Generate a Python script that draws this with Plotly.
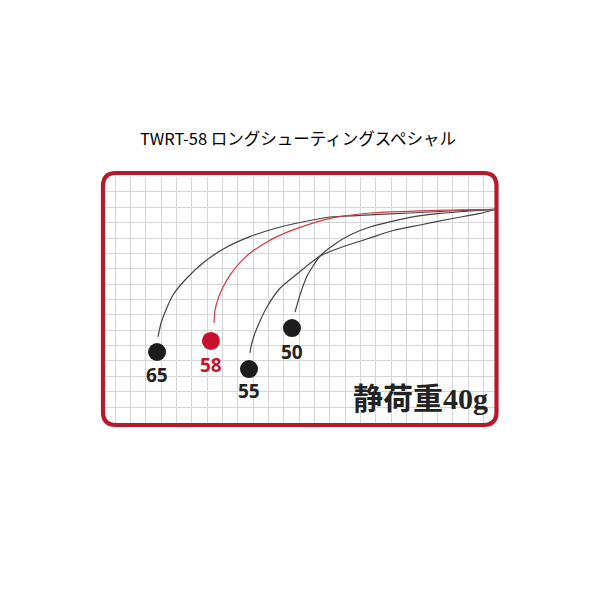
import plotly.graph_objects as go

# ---- data (grid units: x to the right, y upward; one grid cell = 1) ----
c65_x = [24.76, 21.82, 19.22, 15.96, 14.01, 12.05, 10.42, 8.79, 7.17, 5.73, 4.56, 3.78, 3.32, 3.00, 2.80]
c65_y = [12.86, 12.76, 12.63, 12.47, 12.37, 12.01, 11.62, 11.09, 10.35, 9.38, 8.27, 7.29, 6.32, 5.47, 4.56]

c58_x = [24.76, 20.52, 16.61, 14.01, 12.05, 10.55, 9.58, 8.79, 8.08, 7.49, 7.04, 6.71, 6.51, 6.45]
c58_y = [12.86, 12.79, 12.63, 12.28, 11.69, 11.09, 10.55, 10.01, 9.34, 8.59, 7.81, 7.03, 6.25, 5.47]

c55_x = [24.76, 23.78, 21.82, 19.87, 18.11, 16.61, 14.98, 13.36, 11.86, 10.75, 9.90, 9.25, 8.93, 8.79]
c55_y = [12.86, 12.60, 12.24, 11.85, 11.49, 11.00, 10.48, 9.83, 8.66, 7.73, 6.51, 5.14, 4.23, 3.52]

c50_x = [24.76, 23.13, 21.17, 19.22, 16.61, 15.31, 14.33, 13.36, 12.51, 12.05, 11.73]
c50_y = [12.86, 12.76, 12.60, 12.34, 11.72, 11.20, 10.61, 9.83, 8.53, 7.29, 6.18]

labels = ["65", "58", "55", "50"]
dot_x = [2.74, 6.25, 8.73, 11.53]
dot_y = [3.58, 4.30, 2.47, 5.14]
label_shift = [-23, -24, -22, -24]

title_text = "TWRT-58 ロングシューティングスペシャル"
load_text = "静荷重40g"

# ---- styles ----
BLACK_LINE = "#444444"
RED_LINE = "#d23a44"
BLACK_DOT = "#1c1c1c"
RED_DOT = "#c8102e"
BORDER = "#b51a2c"

OFF = 8                 # default page body margin of the html page
W, H = 600, 600
PL, PR, PT, PB = 105, 495, 177, 423      # plot area on the page (px)
GX, GY = 15.35, 15.36   # pixel size of one grid cell
X0PX, Y0PX = 115, 407   # page pixel position of grid origin

L, T = PL - OFF, PT - OFF
R, B = W - L - (PR - PL), H - T - (PB - PT)

x_range = [(PL - X0PX) / GX, (PR - X0PX) / GX]
y_range = [(Y0PX - PB) / GY, (Y0PX - PT) / GY]

fig = go.Figure()

curves = [(c65_x, c65_y, BLACK_LINE), (c50_x, c50_y, BLACK_LINE),
          (c55_x, c55_y, BLACK_LINE), (c58_x, c58_y, RED_LINE)]
for cx, cy, col in curves:
    fig.add_trace(go.Scatter(x=cx, y=cy, mode="lines",
                             line=dict(color=col, width=1.2, shape="spline", smoothing=0.6),
                             hoverinfo="skip", showlegend=False))

dot_colors = [RED_DOT if l == "58" else BLACK_DOT for l in labels]
fig.add_trace(go.Scatter(x=dot_x, y=dot_y, mode="markers",
                         marker=dict(size=18, color=dot_colors, line=dict(width=0)),
                         hoverinfo="skip", showlegend=False))

for lx, ly, lab, col, sh in zip(dot_x, dot_y, labels, dot_colors, label_shift):
    fig.add_annotation(x=lx, y=ly, text=lab, showarrow=False, yshift=sh,
                       font=dict(family="Open Sans", size=19,
                                 color=("#c0182a" if lab == "58" else "#222222"), weight=700))

fig.add_annotation(x=(420 - X0PX) / GX, y=(Y0PX - 398) / GY, text=load_text, showarrow=False,
                   font=dict(family="Liberation Serif, Noto Sans CJK JP", size=30, color="#222222", weight=700))

# rounded border (page pixel -> paper)
def px2paper(px, py):
    return (px - PL) / (PR - PL), (PB - py) / (PB - PT)

def rrect_path(x1, y1, x2, y2, r):
    pts = [("M", x1 + r, y1), ("L", x2 - r, y1), ("Q", x2, y1, x2, y1 + r), ("L", x2, y2 - r),
           ("Q", x2, y2, x2 - r, y2), ("L", x1 + r, y2), ("Q", x1, y2, x1, y2 - r),
           ("L", x1, y1 + r), ("Q", x1, y1, x1 + r, y1)]
    s = ""
    for p in pts:
        coords = p[1:]
        parts = []
        for i in range(0, len(coords), 2):
            a, b = px2paper(coords[i], coords[i + 1])
            parts.append(f"{a:.5f},{b:.5f}")
        s += p[0] + " " + " ".join(parts) + " "
    return s + "Z"

fig.add_shape(type="path", xref="paper", yref="paper", path=rrect_path(103, 173, 496.5, 425, 13),
              line=dict(color=BORDER, width=4.2), fillcolor="rgba(0,0,0,0)", layer="above")

axis_style = dict(showgrid=True, gridcolor="#d6d6d6", gridwidth=1, dtick=1, tick0=0,
                  showticklabels=False, zeroline=False, showline=False, ticks="", fixedrange=True)
fig.update_xaxes(range=x_range, **axis_style)
fig.update_yaxes(range=y_range, **axis_style)

fig.update_layout(
    width=W, height=H, margin=dict(l=L, r=R, t=T, b=B),
    paper_bgcolor="white", plot_bgcolor="white",
    title=dict(text=title_text, x=(298 - OFF) / W, xanchor="center",
               y=1 - (139 - OFF) / H, yanchor="middle", yref="container",
               font=dict(family="Noto Sans CJK JP", size=16.5, color="#000000")),
    showlegend=False,
)

fig.write_html("out.html")
